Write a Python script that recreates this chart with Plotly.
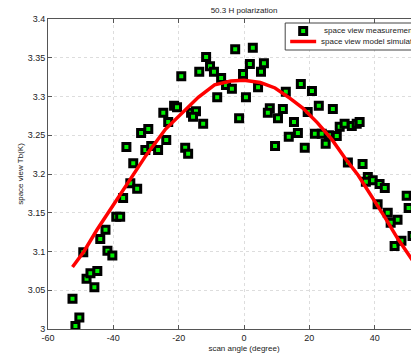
import plotly.graph_objects as go

# Measured space-view brightness temperature vs scan angle
scan_angle = [
    -51.6, -50.4, -52.5, -45.8, -48.2, -47.0, -44.9, -49.2, -41.8, -40.3,
    -44.0, -42.4, -39.1, -37.9, -37.0, -34.8, -32.7, -33.9, -36.0, -30.2,
    -28.4, -26.3, -23.8, -31.5, -29.3, -24.7, -23.2, -21.4, -20.5, -19.2,
    -18.0, -17.1, -16.2, -14.7, -15.6, -13.7, -12.5, -11.6, -10.4, -9.2,
    -7.0, -5.5, -3.7, -8.2, -2.7, 2.7, 1.8, 6.1, 5.2, -0.3,
    0.6, 4.3, -1.5, 12.8, 7.9, 7.3, 11.9, 10.4, 9.5, 13.7,
    17.4, 20.8, 22.9, 27.2, 19.5, 15.3, 16.5, 18.6, 21.7, 23.8,
    26.0, 28.4, 25.0, 29.3, 30.8, 33.0, 34.5, 35.4, 31.8, 36.3,
    37.9, 39.4, 37.3, 41.5, 43.1, 40.9, 44.0, 47.0, 44.9, 49.8,
    50.4, 46.1, 48.2, 51.6,
]
tb_measured = [
    3.004, 3.015, 3.039, 3.054, 3.065, 3.072, 3.075, 3.099, 3.101, 3.095,
    3.116, 3.128, 3.145, 3.145, 3.169, 3.188, 3.181, 3.214, 3.235, 3.231,
    3.236, 3.231, 3.244, 3.253, 3.258, 3.279, 3.267, 3.288, 3.286, 3.326,
    3.234, 3.226, 3.279, 3.281, 3.274, 3.332, 3.265, 3.351, 3.339, 3.332,
    3.324, 3.315, 3.310, 3.299, 3.361, 3.363, 3.342, 3.343, 3.332, 3.329,
    3.299, 3.312, 3.272, 3.306, 3.285, 3.279, 3.284, 3.272, 3.236, 3.248,
    3.316, 3.307, 3.288, 3.284, 3.280, 3.267, 3.253, 3.234, 3.252, 3.252,
    3.250, 3.249, 3.239, 3.261, 3.265, 3.262, 3.265, 3.267, 3.215, 3.213,
    3.196, 3.192, 3.190, 3.187, 3.182, 3.161, 3.150, 3.141, 3.137, 3.172,
    3.156, 3.107, 3.114, 3.120,
]

# Model simulation curve
model_angle = [-52.5, -49, -45, -40, -36, -30, -24, -19, -14, -9, -4, 0,
               5, 9.5, 14, 18, 22.5, 27, 31, 35, 39, 43, 47, 51, 52.5]
tb_model = [3.080, 3.100, 3.128, 3.160, 3.186, 3.224, 3.258, 3.279, 3.299,
            3.315, 3.320, 3.321, 3.318, 3.311, 3.298, 3.285, 3.266, 3.244,
            3.220, 3.198, 3.172, 3.145, 3.117, 3.092, 3.083]

series_names = ["space view measurements", "space view model simulation"]
x_ticks = [-60, -40, -20, 0, 20, 40, 60]
x_tick_text = ["-60", "-40", "-20", "0", "20", "40", "60"]
y_ticks = [3.0, 3.05, 3.1, 3.15, 3.2, 3.25, 3.3, 3.35, 3.4]
y_tick_text = ["3", "3.05", "3.1", "3.15", "3.2", "3.25", "3.3", "3.35", "3.4"]

FONT = "Liberation Sans, Arial, sans-serif"
TEXT = "#222222"
GREEN = "#00ee00"

# figure geometry (pixels)
W, H = 470, 355
ML, MR, MT, MB = 47.5, 30, 19, 26
PW, PH = W - ML - MR, H - MT - MB


def px_x(p):
    """pixel column -> paper x"""
    return (p - ML) / PW


def px_y(p):
    """pixel row (from top) -> paper y"""
    return (H - MB - p) / PH


fig = go.Figure()
fig.add_trace(go.Scatter(
    x=scan_angle, y=tb_measured, mode="markers", name=series_names[0],
    marker=dict(symbol="square", size=7, color=GREEN,
                line=dict(color="black", width=3)),
    showlegend=False,
))
fig.add_trace(go.Scatter(
    x=model_angle, y=tb_model, mode="lines", name=series_names[1],
    line=dict(color="#ff0000", width=3.5),
    showlegend=False,
))

axis_common = dict(
    showline=True, linecolor="#555555", linewidth=1, mirror="ticks",
    ticks="inside", ticklen=4, tickcolor="#555555",
    showgrid=True, gridcolor="#dddddd", griddash="dot", gridwidth=1,
    zeroline=False, automargin=False,
    tickfont=dict(family=FONT, size=9, color=TEXT),
)

# compact legend box in the upper right corner
legend_shapes = [
    dict(type="rect", xref="paper", yref="paper",
         x0=px_x(285), x1=px_x(436), y0=px_y(50), y1=px_y(23),
         line=dict(color="#444444", width=1), fillcolor="white", layer="above"),
    dict(type="rect", xref="paper", yref="paper",
         x0=px_x(299.5), x1=px_x(306.5), y0=px_y(34.5), y1=px_y(27.5),
         line=dict(color="black", width=3), fillcolor=GREEN, layer="above"),
    dict(type="line", xref="paper", yref="paper",
         x0=px_x(290), x1=px_x(316), y0=px_y(41.5), y1=px_y(41.5),
         line=dict(color="#ff0000", width=3.5), layer="above"),
]
legend_labels = [
    dict(text=series_names[0], xref="paper", yref="paper",
         x=px_x(322), y=px_y(31), xanchor="left", yanchor="middle",
         showarrow=False, font=dict(family=FONT, size=8, color=TEXT)),
    dict(text=series_names[1], xref="paper", yref="paper",
         x=px_x(319), y=px_y(41.5), xanchor="left", yanchor="middle",
         showarrow=False, font=dict(family=FONT, size=8, color=TEXT)),
]

fig.update_layout(
    width=W, height=H,
    margin=dict(l=ML, r=MR, t=MT, b=MB),
    paper_bgcolor="white", plot_bgcolor="white",
    font=dict(family=FONT, size=8, color=TEXT),
    title=dict(text="50.3 H polarization", x=0.5, xref="paper",
               y=1 - 10 / H, yanchor="middle",
               font=dict(family=FONT, size=8, color=TEXT)),
    xaxis=dict(range=[-60, 60], tickvals=x_ticks, ticktext=x_tick_text,
               title=dict(text="scan angle (degree)", standoff=3,
                          font=dict(family=FONT, size=8)),
               **axis_common),
    yaxis=dict(range=[3.0, 3.4], tickvals=y_ticks, ticktext=y_tick_text,
               title=dict(text="space view Tb(K)", standoff=2,
                          font=dict(family=FONT, size=8)),
               **axis_common),
    shapes=legend_shapes,
    annotations=legend_labels,
    showlegend=False,
)

fig.write_html("out.html")
